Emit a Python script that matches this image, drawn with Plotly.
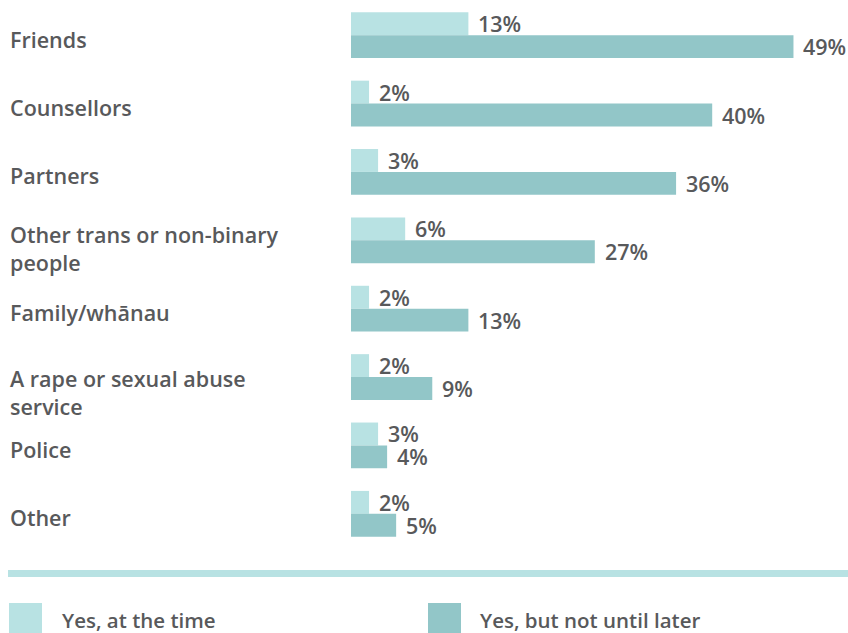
import plotly.graph_objects as go

# Who people told, split by timing
categories = [
    "Friends",
    "Counsellors",
    "Partners",
    "Other trans or non-binary<br>people",
    "Family/whānau",
    "A rape or sexual abuse<br>service",
    "Police",
    "Other",
]
at_the_time = [13, 2, 3, 6, 2, 2, 3, 2]
not_until_later = [49, 40, 36, 27, 13, 9, 4, 5]
series_names = ["Yes, at the time", "Yes, but not until later"]

LIGHT = "#b8e2e3"
DARK = "#92c6c8"
TEXT = "#58595b"
FONT = "Open Sans"
SIZE = 21.5

W, H = 848, 633
ML, MT, MB = 351, 1, 85
PX_PER_PCT = 9.03
plot_w = W - ML
plot_h = H - MT - MB
x_max = plot_w / PX_PER_PCT

ycat = list(range(len(categories)))

fig = go.Figure()
for name, vals, col in [(series_names[0], at_the_time, LIGHT),
                        (series_names[1], not_until_later, DARK)]:
    fig.add_trace(go.Bar(
        x=vals, y=ycat, orientation="h", name=name,
        marker=dict(color=col, line=dict(width=0)),
        showlegend=False, hoverinfo="skip",
    ))

annotations = []
# value labels next to each bar end
for vals, shift in [(at_the_time, 11.5), (not_until_later, -11.5)]:
    for i, v in enumerate(vals):
        annotations.append(dict(
            x=v, y=i, xref="x", yref="y", text=f"{v}%", showarrow=False,
            xanchor="left", yanchor="middle", xshift=8, yshift=shift,
            font=dict(family=FONT, size=SIZE, color=TEXT, weight=600),
        ))

# category labels, left aligned in the margin
label_x = (8 - ML) / plot_w
for i, lab in enumerate(categories):
    two_line = "<br>" in lab
    yshift = -4
    if two_line:
        yshift = -8 if i == 3 else -15
    annotations.append(dict(
        x=label_x, y=i, xref="paper", yref="y", text=lab, showarrow=False,
        xanchor="left", yanchor="middle", align="left", yshift=yshift,
        font=dict(family=FONT, size=SIZE, color=TEXT, weight=600),
    ))


def py(pix):
    """Pixel row to paper y."""
    return (H - MB - pix) / plot_h


def px(pix):
    """Pixel column to paper x."""
    return (pix - ML) / plot_w


shapes = [
    dict(type="rect", xref="paper", yref="paper",
         x0=px(8), x1=px(848), y0=py(577), y1=py(570),
         fillcolor=LIGHT, line=dict(width=0)),
    dict(type="rect", xref="paper", yref="paper",
         x0=px(9), x1=px(42), y0=py(640), y1=py(603),
         fillcolor=LIGHT, line=dict(width=0)),
    dict(type="rect", xref="paper", yref="paper",
         x0=px(428), x1=px(461), y0=py(640), y1=py(603),
         fillcolor=DARK, line=dict(width=0)),
]
for name, xpos in [(series_names[0], 60), (series_names[1], 478)]:
    annotations.append(dict(
        x=px(xpos), y=py(620), xref="paper", yref="paper", text=name,
        showarrow=False, xanchor="left", yanchor="middle",
        font=dict(family=FONT, size=20.5, color=TEXT, weight=600),
    ))

fig.update_layout(
    width=W, height=H,
    margin=dict(l=ML, r=0, t=MT, b=MB, pad=0),
    paper_bgcolor="white", plot_bgcolor="white",
    barmode="group", bargap=0.33, bargroupgap=0,
    xaxis=dict(range=[0, x_max], visible=False, fixedrange=True),
    yaxis=dict(range=[len(categories) - 0.5, -0.5], visible=False,
               fixedrange=True),
    annotations=annotations, shapes=shapes,
)

fig.write_html("out.html", config={"displayModeBar": False})
